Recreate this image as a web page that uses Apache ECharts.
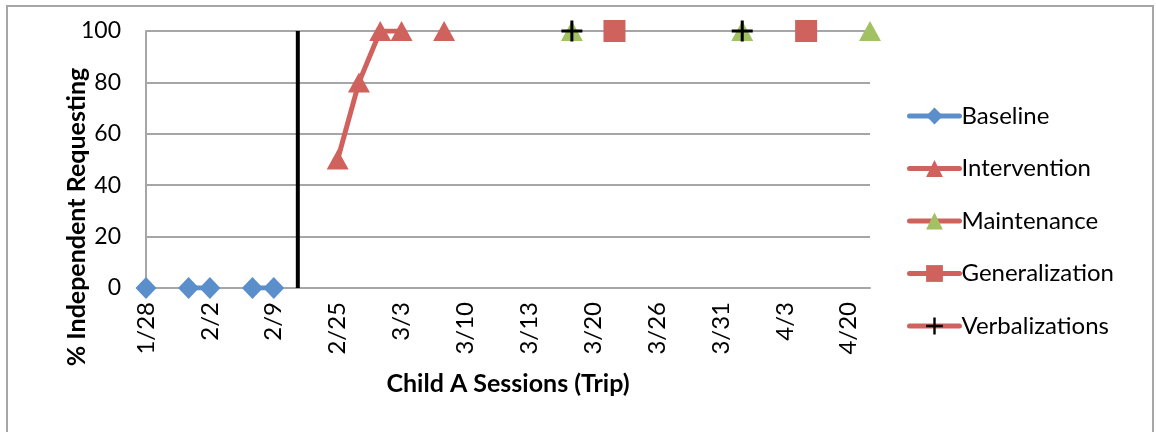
<!DOCTYPE html>
<html>
<head>
<meta charset="utf-8">
<script src="https://cdn.jsdelivr.net/npm/echarts@6/dist/echarts.min.js"></script>
<style>
  html, body { margin: 0; padding: 0; background: #ffffff; }
  #chart { width: 1156px; height: 432px; }
</style>
</head>
<body>
<div id="chart"></div>
<script>
// Sessions are numbered 0..34; every third session carries a date label.
const sessionCount = 35;
const tickLabels = ['1/28', '2/2', '2/9', '2/25', '3/3', '3/10', '3/13', '3/20', '3/26', '3/31', '4/3', '4/20'];

// Phase change line sits just after session 7.
const phaseChangeAt = 7.13;

// Each phase: which sessions were measured and the % of independent requesting.
const baselineSessions = [0, 2, 3, 5, 6];
const baselineValues = [0, 0, 0, 0, 0];

const interventionSessions = [9, 10, 11, 12, 14];
const interventionValues = [50, 80, 100, 100, 100];

const maintenanceSessions = [20, 28, 34];
const maintenanceValues = [100, 100, 100];

const generalizationSessions = [22, 31];
const generalizationValues = [100, 100];

const verbalizationSessions = [20, 28];
const verbalizationValues = [100, 100];

const FONT = 'Lato, "Open Sans", sans-serif';
const BLUE = '#5b8fcb';
const RED = '#d0625d';
const GREEN = '#a2c163';
const GRID = '#a6a6a6';
const LINE_WIDTH = 5;

const categories = Array.from({ length: sessionCount }, (_, i) =>
  i % 3 === 0 ? (tickLabels[i / 3] || '') : ''
);

function toSeriesData(sessions, values) {
  const arr = new Array(sessionCount).fill(null);
  sessions.forEach((s, k) => { arr[s] = values[k]; });
  return arr;
}

function phaseSeries(name, data, symbol, size, lineColor, markerColor, z) {
  return {
    name,
    type: 'line',
    data,
    symbol,
    symbolSize: size,
    showSymbol: true,
    showAllSymbol: true,
    connectNulls: false,
    lineStyle: { color: lineColor, width: LINE_WIDTH, join: 'round', cap: 'round' },
    itemStyle: { color: markerColor },
    emphasis: { disabled: true },
    z
  };
}

const chart = echarts.init(document.getElementById('chart'), null, { renderer: 'canvas' });

const option = {
  animation: false,
  backgroundColor: '#ffffff',
  textStyle: { fontFamily: FONT, color: '#000000' },
  graphic: [{
    type: 'rect',
    silent: true,
    z: -10,
    shape: { x: 7, y: 6, width: 1146, height: 440 },
    style: { fill: 'none', stroke: GRID, lineWidth: 2 }
  }, {
    type: 'text',
    silent: true,
    x: 77,
    y: 217,
    rotation: Math.PI / 2,
    style: {
      text: '% Independent Requesting',
      fontFamily: FONT,
      fontSize: 25,
      fontWeight: 'bold',
      fill: '#000000',
      align: 'center',
      verticalAlign: 'middle'
    }
  }],
  grid: { left: 146, right: 286, top: 31, bottom: 144, containLabel: false },
  legend: {
    orient: 'vertical',
    left: 902,
    top: 99,
    itemWidth: 50,
    itemHeight: 21,
    itemGap: 28.5,
    data: ['Baseline', 'Intervention', 'Maintenance', 'Generalization', 'Verbalizations'],
    lineStyle: { width: LINE_WIDTH },
    textStyle: { fontFamily: FONT, fontSize: 24, color: '#000000', padding: [0, 0, 0, -3] }
  },
  xAxis: [{
    type: 'category',
    data: categories,
    boundaryGap: false,
    name: 'Child A Sessions (Trip)',
    nameLocation: 'middle',
    nameGap: 83,
    nameTextStyle: { fontFamily: FONT, fontSize: 25, fontWeight: 'bold', color: '#000000' },
    axisLine: { lineStyle: { color: GRID, width: 2 } },
    axisTick: { show: false },
    axisLabel: {
      interval: 2,
      rotate: 90,
      margin: 14,
      fontFamily: FONT,
      fontSize: 24,
      color: '#000000'
    },
    splitLine: { show: false }
  }, {
    type: 'value',
    min: 0,
    max: sessionCount - 1,
    show: false
  }],
  yAxis: {
    type: 'value',
    min: 0,
    max: 100,
    interval: 20,
    axisLine: { show: true, lineStyle: { color: GRID, width: 2 } },
    axisTick: { show: false },
    axisLabel: { margin: 25, fontFamily: FONT, fontSize: 23, color: '#000000' },
    splitLine: { show: true, lineStyle: { color: GRID, width: 2 } }
  },
  series: [
    {
      name: 'Phase change',
      type: 'line',
      xAxisIndex: 1,
      data: [[phaseChangeAt, 0], [phaseChangeAt, 100]],
      symbol: 'none',
      lineStyle: { color: '#000000', width: 4, cap: 'butt' },
      silent: true,
      z: 3
    },
    phaseSeries('Baseline', toSeriesData(baselineSessions, baselineValues),
      'diamond', [21, 22], BLUE, BLUE, 4),
    phaseSeries('Intervention', toSeriesData(interventionSessions, interventionValues),
      'triangle', [22, 20], RED, RED, 4),
    phaseSeries('Maintenance', toSeriesData(maintenanceSessions, maintenanceValues),
      'triangle', [22, 20], RED, GREEN, 4),
    phaseSeries('Generalization', toSeriesData(generalizationSessions, generalizationValues),
      'rect', [22, 22], RED, RED, 4),
    phaseSeries('Verbalizations', toSeriesData(verbalizationSessions, verbalizationValues),
      'path://M9,0h3v9h9v3h-9v9h-3v-9h-9v-3h9z', [21, 21], RED, '#000000', 5)
  ]
};

chart.setOption(option);
</script>
</body>
</html>
